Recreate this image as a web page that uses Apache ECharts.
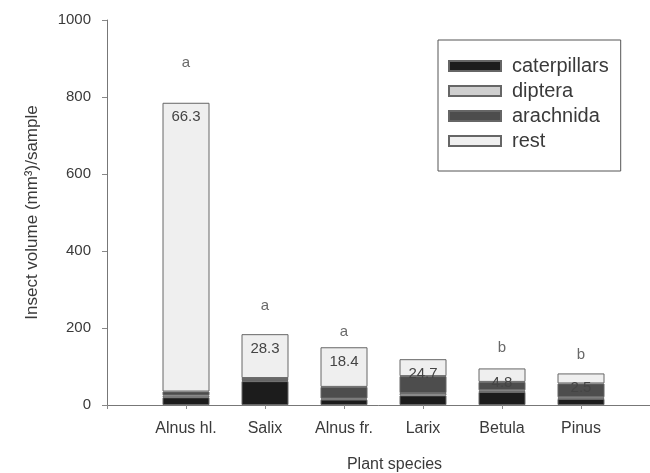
<!DOCTYPE html>
<html>
<head>
<meta charset="utf-8">
<script src="https://cdn.jsdelivr.net/npm/echarts@6/dist/echarts.min.js"></script>
<style>
  html, body { margin: 0; padding: 0; background: #fff; }
  #chart { width: 650px; height: 473px; }
</style>
</head>
<body>
<div id="chart"></div>
<script>
// plant species on the x axis
const species = ['Alnus hl.', 'Salix', 'Alnus fr.', 'Larix', 'Betula', 'Pinus']
// stacked insect volume (mm3/sample), bottom to top
const caterpillars = [20, 62, 14, 25, 34, 16]
const diptera = [5, 3, 3, 6, 4, 4]
const arachnida = [10, 5, 30, 44, 22, 36]
const rest = [750, 114, 103, 44, 35, 26]
// numbers printed inside the top segment
const restLabels = ['66.3', '28.3', '18.4', '24.7', '4.8', '2.5']
// significance letters and the height they sit at
const letters = ['a', 'a', 'a', '', 'b', 'b']
const letterHeight = [888, 257, 190, null, 148, 130]

const textColor = '#3a3a3a'
const font = 'Liberation Sans, Arial, sans-serif'

// the axis keeps an empty slot before the first and after the last species
const categories = [''].concat(species, [''])
function pad(arr) {
  return [null].concat(arr, [null])
}

function barSeries(name, data, color, extra) {
  return Object.assign({
    name: name,
    type: 'bar',
    stack: 'total',
    barWidth: 47,
    data: pad(data),
    itemStyle: {
      color: color,
      borderColor: '#666',
      borderWidth: 1
    }
  }, extra || {})
}

const chart = echarts.init(document.getElementById('chart'))
chart.setOption({
  backgroundColor: '#fff',
  animation: false,
  textStyle: { fontFamily: font },
  grid: { left: 107, right: -10, top: 20, bottom: 68, outerBoundsMode: 'none', containLabel: false },
  legend: {
    orient: 'vertical',
    left: 438,
    top: 40,
    data: ['caterpillars', 'diptera', 'arachnida', 'rest'],
    icon: 'rect',
    itemWidth: 52,
    itemHeight: 10,
    itemGap: 5,
    padding: [16, 12, 20, 10],
    borderColor: '#555',
    borderWidth: 1,
    textStyle: { fontSize: 20, color: textColor, fontFamily: font, padding: [0, 0, 0, 6] }
  },
  xAxis: {
    type: 'category',
    data: categories,
    boundaryGap: false,
    name: 'Plant species',
    nameLocation: 'middle',
    nameGap: 52,
    nameTextStyle: { fontSize: 16, color: textColor, padding: [0, 0, 0, 22] },
    splitLine: { show: false },
    axisLine: { show: true, lineStyle: { color: '#777', width: 1 } },
    axisTick: { show: true, length: 4, lineStyle: { color: '#888' } },
    axisLabel: { fontSize: 16, color: textColor, margin: 16, interval: 0 }
  },
  yAxis: {
    type: 'value',
    min: 0,
    max: 1000,
    interval: 200,
    name: 'Insect volume (mm³)/sample',
    nameLocation: 'middle',
    nameGap: 66,
    nameTextStyle: { fontSize: 17, color: textColor },
    splitLine: { show: false },
    axisLine: { show: true, lineStyle: { color: '#777', width: 1 } },
    axisTick: { show: true, length: 5, lineStyle: { color: '#888' } },
    axisLabel: { fontSize: 15, color: textColor, margin: 16, formatter: v => String(v) }
  },
  series: [
    barSeries('caterpillars', caterpillars, '#1c1c1c'),
    barSeries('diptera', diptera, '#cfcfcf'),
    barSeries('arachnida', arachnida, '#4d4d4d'),
    barSeries('rest', rest, '#efefef', {
      label: {
        show: true,
        position: 'insideTop',
        distance: 7,
        fontSize: 15,
        color: '#444',
        formatter: p => restLabels[p.dataIndex - 1]
      }
    }),
    {
      name: 'letters',
      type: 'scatter',
      symbolSize: 0,
      data: pad(letterHeight),
      label: {
        show: true,
        position: 'inside',
        fontSize: 15,
        color: '#444',
        formatter: p => letters[p.dataIndex - 1]
      }
    }
  ]
})
</script>
</body>
</html>
